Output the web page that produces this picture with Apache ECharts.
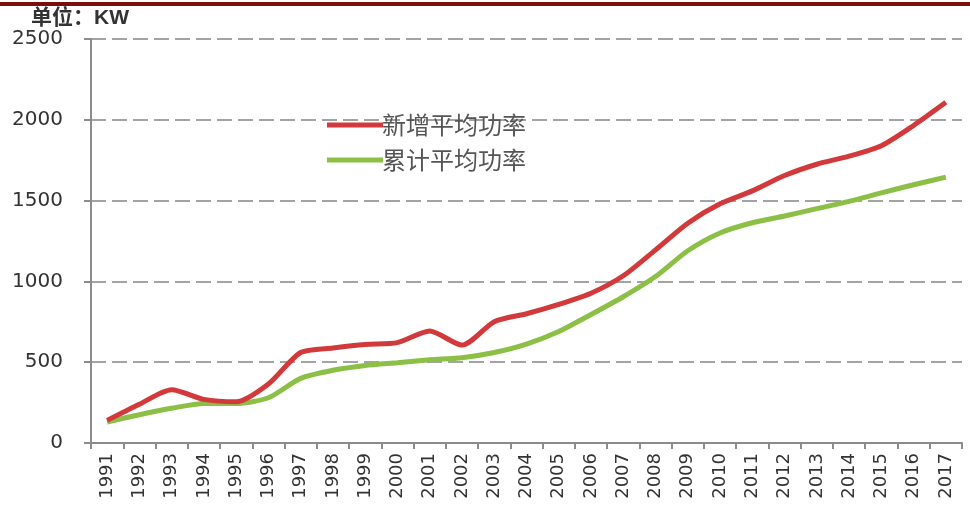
<!DOCTYPE html>
<html>
<head>
<meta charset="utf-8">
<script src="https://cdn.jsdelivr.net/npm/echarts@6/dist/echarts.min.js"></script>
<style>
  html, body { margin: 0; padding: 0; background: #fff; }
  #chart { width: 970px; height: 510px; }
</style>
</head>
<body>
<div id="chart"></div>
<script>
// Average turbine power, 1991-2017 (unit: KW)
const years = ['1991','1992','1993','1994','1995','1996','1997','1998','1999','2000',
  '2001','2002','2003','2004','2005','2006','2007','2008','2009','2010',
  '2011','2012','2013','2014','2015','2016','2017'];
const newAvgPower = [140, 240, 330, 270, 255, 365, 560, 588, 610, 621,
  693, 606, 751, 800, 858, 927, 1035, 1195, 1360, 1480,
  1560, 1655, 1725, 1775, 1840, 1965, 2108];
const cumAvgPower = [130, 175, 215, 245, 245, 280, 400, 450, 480, 497,
  515, 528, 560, 612, 690, 795, 905, 1030, 1190, 1300,
  1363, 1405, 1450, 1495, 1548, 1598, 1645];
const yTicks = { min: 0, max: 2500, interval: 500 };
const seriesNames = ['新增平均功率', '累计平均功率'];
const unitLabel = '单位：KW';

const chart = echarts.init(document.getElementById('chart'));
const labelFont = 'DejaVu Sans';

chart.setOption({
  backgroundColor: '#fff',
  animation: false,
  graphic: [
    { type: 'rect', left: 0, top: 2, shape: { width: 970, height: 4 }, style: { fill: '#7d0c0c' } },
    { type: 'text', left: 31, top: 8, style: { text: unitLabel, fill: '#333', font: 'bold 21px "Liberation Sans", "Noto Sans CJK SC", sans-serif' } }
  ],
  grid: { left: 91, right: 8, top: 39, bottom: 67, containLabel: false },
  legend: {
    orient: 'vertical',
    left: 322,
    top: 108,
    itemWidth: 56,
    itemHeight: 5,
    itemGap: 11,
    icon: 'rect',
    textStyle: { fontSize: 24, color: '#555', fontFamily: '"Noto Sans CJK SC", sans-serif', padding: [0, 0, 0, -6] },
    data: seriesNames
  },
  xAxis: {
    type: 'category',
    data: years,
    boundaryGap: true,
    axisLine: { lineStyle: { color: '#8c8c8c', width: 2 } },
    axisTick: { show: true, length: 6, alignWithLabel: false, lineStyle: { color: '#8c8c8c', width: 2 } },
    axisLabel: { rotate: 90, fontSize: 18, color: '#333', fontFamily: labelFont, margin: 10, interval: 0 }
  },
  yAxis: {
    type: 'value',
    min: yTicks.min,
    max: yTicks.max,
    interval: yTicks.interval,
    axisLine: { show: true, lineStyle: { color: '#8c8c8c', width: 2 } },
    axisTick: { show: true, length: 7, lineStyle: { color: '#8c8c8c', width: 2 } },
    axisLabel: { fontSize: 20, color: '#333', fontFamily: labelFont, margin: 28, formatter: (v) => String(v) },
    splitLine: { show: true, lineStyle: { color: '#a3a3a3', width: 2, type: [15, 6] } }
  },
  series: [
    {
      name: seriesNames[0],
      type: 'line',
      data: newAvgPower,
      smooth: 0.25,
      symbol: 'none',
      color: '#d1393b',
      lineStyle: { width: 5, color: '#d1393b' },
      z: 3
    },
    {
      name: seriesNames[1],
      type: 'line',
      data: cumAvgPower,
      smooth: 0.25,
      symbol: 'none',
      color: '#8cbf45',
      lineStyle: { width: 5, color: '#8cbf45' },
      z: 2
    }
  ]
});
</script>
</body>
</html>
